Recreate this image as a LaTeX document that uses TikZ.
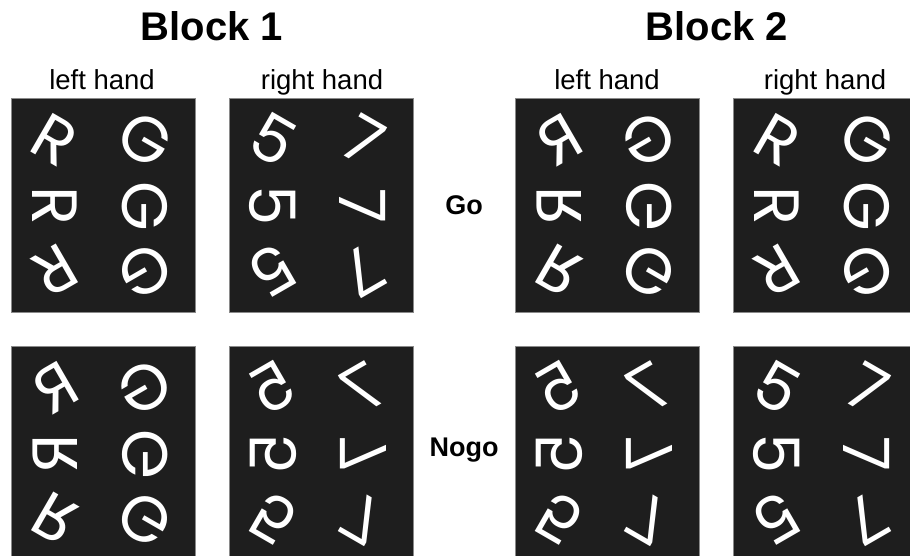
\documentclass[tikz,border=0pt]{standalone}
\usepackage{fontspec}
\usepackage{graphicx}
\setmainfont{Liberation Sans}
\newfontfamily\glyphfont{Poppins}
\definecolor{panelfill}{HTML}{1E1E1E}
\definecolor{paneledge}{HTML}{8A8A8A}
\tikzset{
  panelbox/.style={draw=paneledge, line width=0.8pt, fill=panelfill, minimum width=184pt, minimum height=214pt, inner sep=0pt, anchor=north west},
  glyph/.style={text=white, inner sep=0pt, font=\glyphfont\fontsize{64}{64}\selectfont},
  title/.style={font=\bfseries\fontsize{40}{48}\selectfont, anchor=base},
  handlabel/.style={font=\fontsize{27.5}{32}\selectfont, anchor=base},
  condlabel/.style={font=\bfseries\fontsize{27}{32}\selectfont, anchor=base}
}
% #1 name, #2 x, #3 y, #4 sign (1 normal, -1 mirrored), #5 left glyph, #6 right glyph
\newcommand\stimpanel[6]{%
  \node[panelbox] (#1) at (#2,#3) {};
  \foreach \r/\ang/\dy in {1/30/42,2/90/108,3/150/173}{
    \pgfmathsetmacro\rot{-(#4)*\ang}
    \node[glyph, rotate=\rot] (#1-l\r) at (#2+44,#3+\dy) {\scalebox{#4}[1]{#5}};
    \node[glyph, rotate=\rot] (#1-r\r) at (#2+134,#3+\dy) {\scalebox{#4}[1]{#6}};
  }%
}
\begin{document}
\begin{tikzpicture}[x=1pt,y=-1pt]
\useasboundingbox (0,0) rectangle (910,555);
\clip (0,0) rectangle (910,555);
\node[title] (b1) at (212,40) {Block 1};
\node[title] (b2) at (717,40) {Block 2};
\node[handlabel] (h1) at (102,89) {left hand};
\node[handlabel] (h2) at (322,89) {right hand};
\node[handlabel] (h3) at (607,89) {left hand};
\node[handlabel] (h4) at (825,89) {right hand};
\stimpanel{p1}{11}{98}{1}{R}{G}
\stimpanel{p2}{229}{98}{1}{5}{7}
\stimpanel{p3}{515}{98}{-1}{R}{G}
\stimpanel{p4}{733}{98}{1}{R}{G}
\stimpanel{p5}{11}{346}{-1}{R}{G}
\stimpanel{p6}{229}{346}{-1}{5}{7}
\stimpanel{p7}{515}{346}{-1}{5}{7}
\stimpanel{p8}{733}{346}{1}{5}{7}
\node[condlabel] (go) at (464,214) {Go};
\node[condlabel] (nogo) at (464,456) {Nogo};
\end{tikzpicture}
\end{document}
